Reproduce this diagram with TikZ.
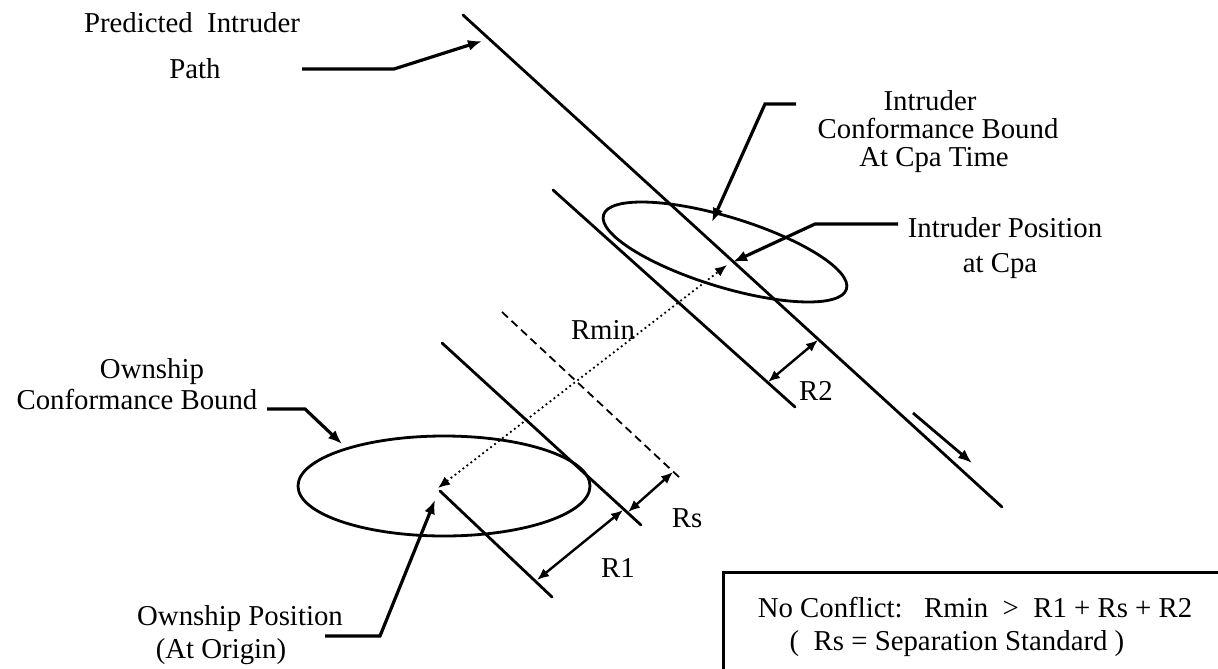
\documentclass[tikz,border=0pt]{standalone}
\usepackage{fontspec}
\setmainfont{Liberation Serif}
\usetikzlibrary{arrows.meta}
\begin{document}
\begin{tikzpicture}[x=0.5pt,y=-0.5pt,
  edge/.style={line width=1.4pt, line cap=round},
  lead/.style={line width=1.6pt, line join=miter, -{Latex[length=7pt,width=5.5pt]}},
  dimarrow/.style={line width=1.2pt, {Latex[length=6pt,width=5pt]}-{Latex[length=6pt,width=5pt]}},
  sepline/.style={line width=0.9pt, dash pattern=on 4pt off 2.5pt},
  rangeline/.style={line width=0.9pt, dash pattern=on 0.9pt off 1.6pt,
    {Latex[length=6pt,width=5pt]}-{Latex[length=6pt,width=5pt]}},
  lbl/.style={font=\fontsize{14.4pt}{17pt}\selectfont, inner sep=0pt, anchor=base}]
\useasboundingbox (0,0) rectangle (1218,668);
\clip (0,0) rectangle (1218,668);

% --- geometry points -------------------------------------------------
\coordinate (pathA) at (463,15);
\coordinate (pathB) at (1002,507);
\coordinate (ibA) at (553,190);
\coordinate (ibB) at (795,407);
\coordinate (obA) at (442,343);
\coordinate (obB) at (641,525);
\coordinate (own) at (438,488);
\coordinate (otA) at (440,491);
\coordinate (otB) at (552,597);
\coordinate (sepA) at (502,312);
\coordinate (sepB) at (680,478);
\coordinate (intr) at (727,265);

% predicted intruder path and the parallel bound edges
\draw[edge] (pathA) -- (pathB);
\draw[edge] (ibA) -- (ibB);
\draw[edge] (obA) -- (obB);
\draw[edge] (otA) -- (otB);
\draw[sepline] (sepA) -- (sepB);

% conformance bounds
\draw[line width=1.4pt, rotate around={-17:(725,252)}] (725,252) ellipse [x radius=127, y radius=35];
\draw[line width=1.4pt] (444,486) ellipse [x radius=146, y radius=50];

% miss distance
\draw[rangeline] (own) -- (intr);
\node[lbl] (rmin) at (603,339) {Rmin};

% direction of travel
\coordinate (dirA) at (913,413);
\coordinate (dirB) at (972,463);
\draw[lead, line width=1.4pt] (dirA) -- (dirB);

% separation distances
\coordinate (r2a) at (768,382);
\coordinate (r2b) at (818,340);
\draw[dimarrow] (r2a) -- (r2b);
\node[lbl] (r2) at (816,400) {R2};

\coordinate (r1a) at (537,580);
\coordinate (r1b) at (623,510);
\draw[dimarrow] (r1a) -- (r1b);
\node[lbl] (r1) at (618,577) {R1};

\coordinate (rsa) at (628,512);
\coordinate (rsb) at (673,472);
\draw[dimarrow] (rsa) -- (rsb);
\node[lbl] (rs) at (687,527) {Rs};

% labels with leaders
\node[lbl] (pip1) at (192,33) {Predicted\ \ Intruder};
\node[lbl] (pip2) at (195,79) {Path};
\coordinate (pipS) at (302,69);
\coordinate (pipK) at (394,69);
\coordinate (pipT) at (482,41);
\draw[lead] (pipS) -- (pipK) -- (pipT);

\node[lbl] (icb1) at (930,111) {Intruder};
\node[lbl] (icb2) at (938,139) {Conformance Bound};
\node[lbl] (icb3) at (934,167) {At Cpa Time};
\coordinate (icbS) at (796,104);
\coordinate (icbK) at (765,104);
\coordinate (icbT) at (712,222);
\draw[lead] (icbS) -- (icbK) -- (icbT);

\node[lbl] (ipc1) at (1005,237) {Intruder Position};
\node[lbl] (ipc2) at (1000,272) {at Cpa};
\coordinate (ipcS) at (898,224);
\coordinate (ipcK) at (815,224);
\coordinate (ipcT) at (733,262);
\draw[lead] (ipcS) -- (ipcK) -- (ipcT);

\node[lbl] (ocb1) at (152,378) {Ownship};
\node[lbl] (ocb2) at (137,409) {Conformance Bound};
\coordinate (ocbS) at (267,409);
\coordinate (ocbK) at (305,409);
\coordinate (ocbT) at (342,444);
\draw[lead] (ocbS) -- (ocbK) -- (ocbT);

\node[lbl] (op1) at (240,625) {Ownship Position};
\node[lbl] (op2) at (221,658) {(At Origin)};
\coordinate (opS) at (325,636);
\coordinate (opK) at (380,636);
\coordinate (opT) at (435,500);
\draw[lead] (opS) -- (opK) -- (opT);

% conflict criterion box
\draw[line width=1.5pt] (723,572) rectangle (1240,700);
\node[lbl] (crit1) at (975,617) {No Conflict:\ \ \ Rmin\ \ >\ \ R1 + Rs + R2};
\node[lbl] (crit2) at (957,650) {(\ \ Rs = Separation Standard )};
\end{tikzpicture}
\end{document}
